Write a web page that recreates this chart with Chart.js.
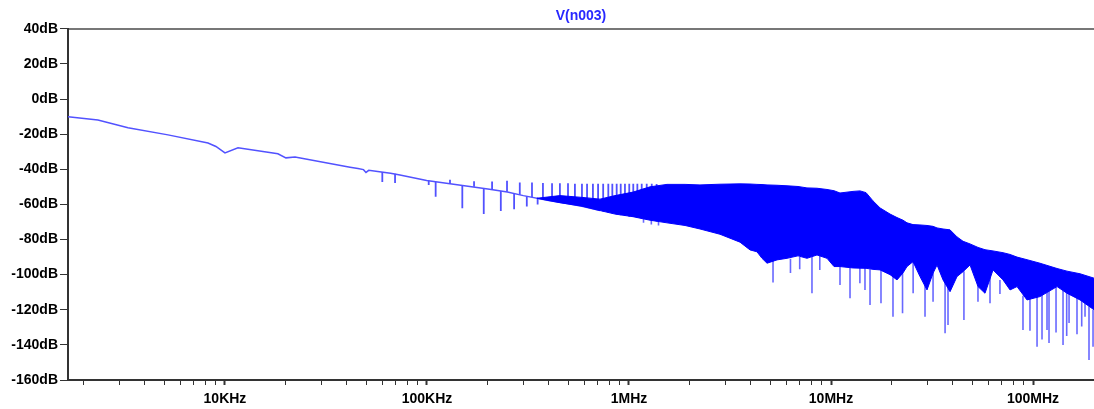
<!DOCTYPE html>
<html>
<head>
<meta charset="utf-8">
<script src="https://cdn.jsdelivr.net/npm/chart.js@4.4.1/dist/chart.umd.min.js"></script>
<style>
  html, body { margin: 0; padding: 0; background: #fff; }
</style>
</head>
<body>
<canvas id="fft" width="1094" height="409"></canvas>
<script>
// low frequency trace (Hz, dB)
const traceFreq = [1671, 2350, 3311, 5224, 8242, 9020, 10000, 11600, 18280, 20030, 22220, 41600, 45500, 48500, 49900, 51500, 57000, 66000, 73500, 99600, 130000, 150000, 200000, 250000, 300000, 400000, 500000, 585000, 718000];
const traceDb   = [-10.1, -11.9, -16.4, -20.4, -25, -27, -30.7, -27.8, -31.2, -33.5, -33, -38.8, -39.6, -40.2, -41.8, -40.6, -41.2, -42.2, -43.2, -46.4, -48.2, -49.3, -51.2, -53, -55, -57.8, -59.6, -61, -63.5];

// single spikes on the trace (frequency, line level, tip)
const spikeFreq = [60100, 69500, 102000, 110400, 130000, 149600, 171000, 191000, 210000, 232000, 249000, 270000, 288000, 312000, 331000, 353000, 375000, 416000, 455000, 499000, 540000, 585000, 620000, 663000, 703000, 745000, 790000, 827000, 869000, 910000, 955000, 1003000, 1050000, 1100000, 1156000, 1224000, 1296000, 1370000];
const spikeBase = [-41.6, -42.6, -46.6, -47.2, -48.2, -49.3, -50, -50.8, -51.5, -52.3, -52.8, -53.8, -54.5, -55.3, -55.8, -56.5, -57, -58.1, -58.9, -59.6, -60.3, -61, -61.8, -62.6, -63.2, -64, -64.6, -65, -65.7, -66.2, -66.6, -67, -67.2, -67.8, -68.3, -68.8, -69.2, -69.8];
const spikeTip  = [-47.2, -47.8, -48.9, -55.6, -46, -62.2, -46.8, -65.4, -47, -63.8, -46.5, -62.8, -47.5, -61.2, -47.5, -60, -47.8, -48, -48, -48, -48.2, -48.2, -48.2, -48.3, -48.3, -48.3, -48.3, -48.3, -48.3, -48.3, -48.3, -48.3, -48.3, -48.3, -48.3, -48.3, -48.3, -48.4];

// dense band: upper and lower envelope
const bandFreq = [350000, 455000, 585000, 718400, 852500, 1047000, 1271000, 1542000, 1894000, 2246000, 2822000, 3544000, 3972000, 4302000, 4554000, 4823000, 5404000, 6057000, 6866000, 7606000, 8525000, 9555000, 10350000, 11080000, 12850000, 13920000, 14910000, 16140000, 17490000, 19600000, 21220000, 22730000, 23780000, 25470000, 27580000, 29870000, 31990000, 33490000, 35860000, 38840000, 42060000, 45040000, 48780000, 53430000, 57860000, 63390000, 71060000, 76960000, 83340000, 93400000, 108300000, 131500000, 147300000, 170900000, 200400000];
const bandUpper = [-56.5, -55, -56, -57, -55, -53, -50, -48.6, -48.6, -48.9, -48.5, -48.3, -48.4, -48.6, -48.7, -48.9, -49.1, -49.4, -49.8, -50.6, -50.8, -51.5, -52.2, -53.5, -52.6, -52.3, -53.3, -58, -62, -65.5, -67.5, -69, -70.5, -71.5, -71.7, -72, -72.5, -73.4, -74, -74.5, -78.5, -81, -82.5, -84.5, -85.8, -86.5, -87.5, -88.5, -90, -91.5, -93.5, -96.5, -98, -99.5, -102];
const bandLower = [-56.5, -59, -61, -63.5, -65.5, -67, -69, -70.5, -72, -74, -77, -81.5, -85.9, -87, -90.7, -93.5, -91.6, -90.7, -89.3, -90.7, -88.8, -90.7, -95.4, -95.4, -96.2, -96.3, -96.4, -97, -97.3, -100, -103, -99, -95.4, -92.6, -101.1, -108.7, -99.2, -94.5, -103, -109.7, -101.1, -98.3, -94.5, -106.8, -110.6, -97.3, -103, -108.7, -106.8, -114.4, -112.5, -106.8, -110.6, -114.4, -120];

// deep notches below the band
const dipFreq = [1180000, 1290000, 1400000, 5164000, 6300000, 7000000, 8050000, 8800000, 11080000, 12420000, 13900000, 14730000, 15600000, 17680000, 20270000, 22600000, 25500000, 29200000, 32000000, 36700000, 37950000, 45500000, 53400000, 61250000, 68600000, 89200000, 96600000, 104700000, 110800000, 117300000, 120000000, 130000000, 140800000, 146800000, 150800000, 165100000, 174200000, 180900000, 189300000, 198200000];
const dipBase = [-68, -69, -70, -92, -91, -90, -90, -89, -95, -96, -96, -96, -97, -97, -100, -99, -92.6, -105, -99, -103, -105, -98, -105, -100, -103, -112, -113, -112, -111, -109, -108, -107, -109, -110, -110, -113, -114, -116, -118, -120];
const dipTip  = [-70.5, -71.5, -72, -104.5, -99, -97, -110.6, -97.3, -105.9, -113.4, -104.9, -108.7, -117.3, -116.3, -124, -122, -110.6, -124, -115.4, -133.4, -128.7, -125.8, -115.4, -116.3, -111, -131.5, -132, -141, -137, -131.5, -139, -133, -140, -135, -127.5, -134, -129.6, -124, -148.6, -141];

const yTicks = [-160, -140, -120, -100, -80, -60, -40, -20, 0, 20, 40];
const xTickValues = [1e4, 1e5, 1e6, 1e7, 1e8];
const xTickText = ['10KHz', '100KHz', '1MHz', '10MHz', '100MHz'];

function pts(xs, ys) {
    return xs.map((x, i) => ({ x: x, y: ys[i] }));
}

// vertical strokes: base -> tip, broken by a gap
function strokes(fs, bases, tips) {
    const out = [];
    fs.forEach((f, i) => {
        out.push({ x: f, y: bases[i] }, { x: f, y: tips[i] }, { x: f, y: null });
    });
    return out;
}

const labelFont = { family: 'Liberation Sans', size: 14, weight: 'bold' };

new Chart(document.getElementById('fft'), {
    type: 'line',
    data: {
        datasets: [
            { data: pts(bandFreq, bandUpper), borderColor: '#0000ff', backgroundColor: '#0000ff', borderWidth: 1, fill: '+1' },
            { data: pts(bandFreq, bandLower), borderColor: '#0000ff', borderWidth: 1, fill: false },
            { data: pts(traceFreq, traceDb), borderColor: '#5252ff', borderWidth: 1.5, fill: false },
            { data: strokes(spikeFreq, spikeBase, spikeTip), borderColor: 'rgba(50,50,255,0.85)', borderWidth: 1.8, fill: false, spanGaps: false },
            { data: strokes(dipFreq, dipBase, dipTip), borderColor: 'rgba(40,40,255,0.7)', borderWidth: 1.6, fill: false, spanGaps: false }
        ]
    },
    options: {
        responsive: false,
        animation: false,
        elements: { point: { radius: 0 }, line: { tension: 0 } },
        layout: { padding: 0, autoPadding: false },
        plugins: {
            legend: { display: false },
            tooltip: { enabled: false },
            title: {
                display: true,
                text: 'V(n003)',
                color: '#2828ff',
                font: labelFont,
                fullSize: false,
                padding: { top: 8, bottom: 4 }
            }
        },
        scales: {
            x: {
                type: 'logarithmic',
                min: 1671,
                max: 200400000,
                afterBuildTicks: (scale) => {
                    // keep 1..9 x 10^n ticks, drop the ones sitting on the right edge
                    scale.ticks = scale.ticks.filter(t => {
                        const m = t.value / Math.pow(10, Math.floor(Math.log10(t.value)));
                        return Math.abs(m - Math.round(m)) < 1e-6 && t.value < scale.max * 0.95;
                    });
                },
                afterFit: (scale) => { scale.height = 29; },
                ticks: {
                    autoSkip: false,
                    maxRotation: 0,
                    padding: 6,
                    color: '#000',
                    font: labelFont,
                    callback: (v) => {
                        const i = xTickValues.indexOf(v);
                        return i >= 0 ? xTickText[i] : '';
                    }
                },
                grid: {
                    drawOnChartArea: false,
                    drawTicks: true,
                    tickLength: 5,
                    tickColor: '#333',
                    tickWidth: (ctx) => (ctx.tick && xTickValues.includes(ctx.tick.value) ? 2 : 1)
                },
                border: { color: '#333', width: 2 }
            },
            top: {
                type: 'linear',
                position: 'top',
                min: 0,
                max: 1,
                ticks: { display: false },
                grid: { display: false },
                border: { display: true, color: '#777', width: 2 },
                afterFit: (scale) => { scale.height = 0; }
            },
            y: {
                min: -160,
                max: 40,
                afterBuildTicks: (scale) => { scale.ticks = yTicks.map(v => ({ value: v })); },
                afterFit: (scale) => { scale.width = 68; },
                ticks: {
                    padding: 2,
                    color: '#000',
                    font: labelFont,
                    callback: (v) => v + 'dB'
                },
                grid: { drawOnChartArea: false, drawTicks: true, tickLength: 8, tickColor: '#333' },
                border: { color: '#333', width: 2 }
            }
        }
    }
});
</script>
</body>
</html>
